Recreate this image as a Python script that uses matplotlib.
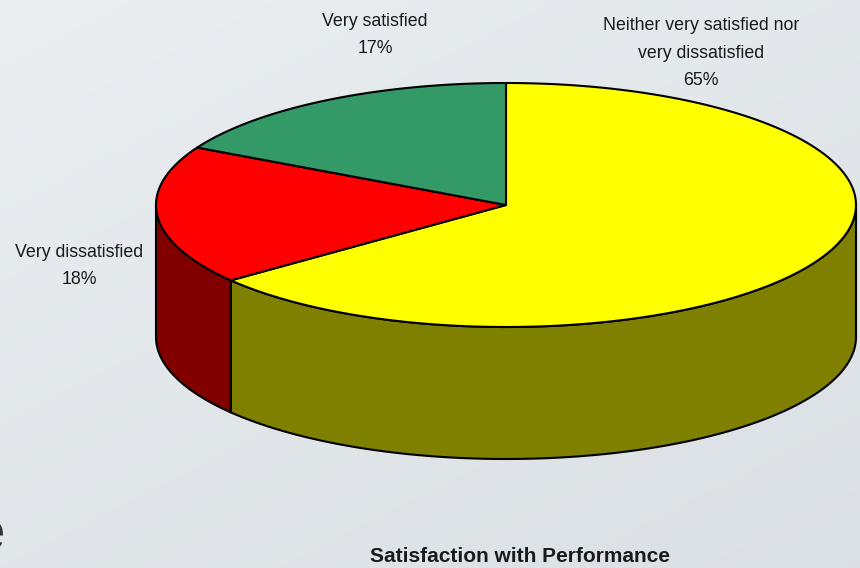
import numpy as np
import matplotlib
matplotlib.use('Agg')
import matplotlib.pyplot as plt

labels = ['Neither very satisfied nor\nvery dissatisfied\n65%', 'Very dissatisfied\n18%', 'Very satisfied\n17%']
# the printed percents are rounded
shares = [64.4, 18.4, 17.2]
top_colors = ['#ffff00', '#ff0000', '#339966']
side_colors = ['#808000', '#800000', '#1a4d33']
title = 'Satisfaction with Performance'

W, H = 860, 568
cx, cy = 506, 205
rx, ry = 350, 122
depth = 132

plt.rcParams['font.family'] = ['Liberation Sans', 'DejaVu Sans']

fig = plt.figure(figsize=(W / 100, H / 100), dpi=100)
ax = fig.add_axes([0, 0, 1, 1])
ax.set_xlim(0, W)
ax.set_ylim(H, 0)
ax.axis('off')

# background, light grey going darker to the bottom right
xx, yy = np.meshgrid(np.linspace(0, 1, 200), np.linspace(0, 1, 140))
grad = (xx + 1.3 * yy) / 2.3
bg = np.array([0.917, 0.933, 0.945])[None, None, :] * (1 - grad[..., None]) + \
    np.array([0.859, 0.878, 0.894])[None, None, :] * grad[..., None]
ax.imshow(bg, extent=[0, W, H, 0], aspect='auto', zorder=0)


def rim(a0, a1, n=200):
    # angles are clockwise from 12 o'clock
    t = np.radians(np.linspace(a0, a1, n))
    return cx + rx * np.sin(t), cy - ry * np.cos(t)


edges = np.cumsum([0] + shares) / sum(shares) * 360

# side wall, only the front half of the rim shows
for i in range(len(shares)):
    a0, a1 = max(edges[i], 90), min(edges[i + 1], 270)
    if a1 <= a0:
        continue
    x, y = rim(a0, a1)
    ax.fill(np.r_[x, x[::-1]], np.r_[y, y[::-1] + depth], fc=side_colors[i],
            ec='black', lw=1.5, zorder=2, joinstyle='round')

# top
for i in range(len(shares)):
    x, y = rim(edges[i], edges[i + 1])
    ax.fill(np.r_[cx, x], np.r_[cy, y], fc=top_colors[i], ec='black', lw=1.5,
            zorder=3, joinstyle='round')

# no narrow font installed, so smaller size with wide line spacing
fs = 12.8
ax.text(701, 53, labels[0], ha='center', va='center', fontsize=fs, linespacing=1.84,
        color='#1a1a1a', zorder=4)
ax.text(79, 266, labels[1], ha='center', va='center', fontsize=fs, linespacing=1.84,
        color='#1a1a1a', zorder=4)
ax.text(375, 35, labels[2], ha='center', va='center', fontsize=fs, linespacing=1.84,
        color='#1a1a1a', zorder=4)
ax.text(520, 556, title, ha='center', va='center', fontsize=15, fontweight='bold',
        color='#1a1a1a', zorder=4)

# cut off letter from the slide behind the chart
ax.text(5, 549, 'e', ha='right', va='baseline', fontsize=38, color='#333333', zorder=1)

fig.savefig('out.png', dpi=100)
